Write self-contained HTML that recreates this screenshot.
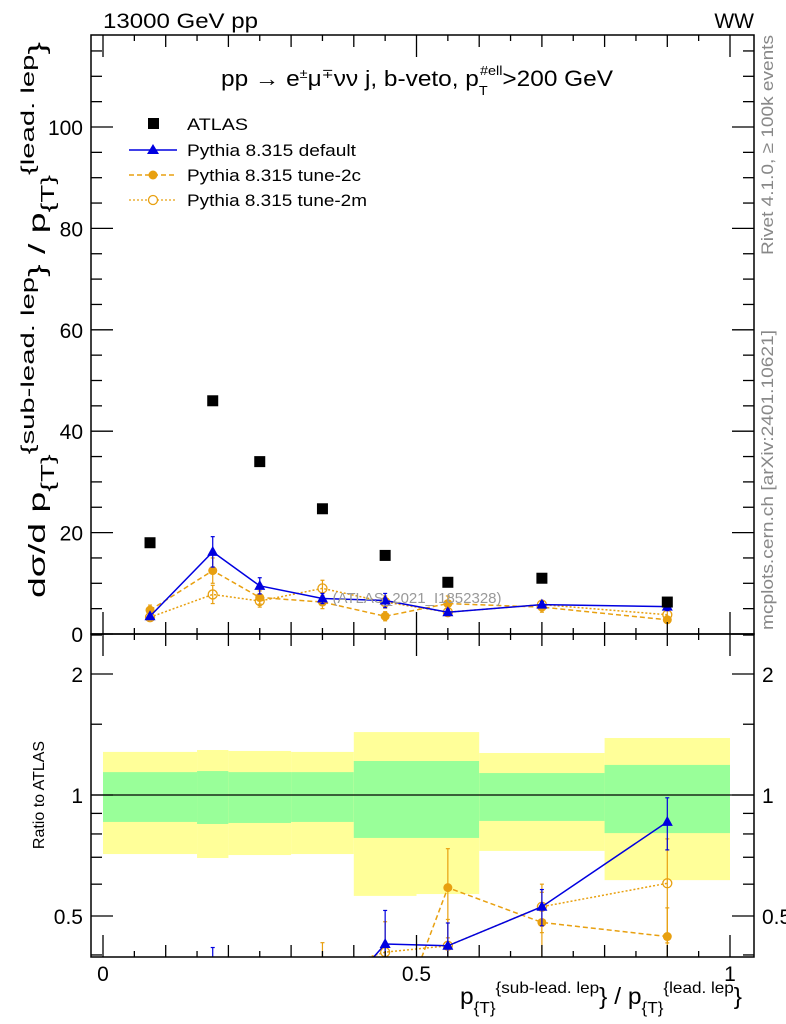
<!DOCTYPE html>
<html><head><meta charset="utf-8"><style>
html,body{margin:0;padding:0;background:#fff;overflow:hidden}
svg{display:block;font-family:"Liberation Sans",sans-serif}
</style></head><body>
<svg id="c" width="786" height="1024" viewBox="0 0 786 1024" xmlns="http://www.w3.org/2000/svg">
<defs>
<clipPath id="clipTop"><rect x="91" y="35" width="663" height="599"/></clipPath>
<clipPath id="clipBot"><rect x="91" y="634" width="663" height="323"/></clipPath>
</defs>
<g id="bands" clip-path="url(#clipBot)"></g>
<g id="marks"></g>
<rect x="91" y="35" width="663" height="599" fill="none" stroke="#000" stroke-width="1.5"/>
<rect x="91" y="634" width="663" height="323" fill="none" stroke="#000" stroke-width="1.5"/>
<g id="ticks" stroke="#000" stroke-width="1.3"></g>
<text x="103" y="28" font-size="21" textLength="155" lengthAdjust="spacingAndGlyphs">13000 GeV pp</text>
<text x="754" y="28" font-size="21" text-anchor="end">WW</text>
<text x="221" y="86" font-size="22" textLength="392" lengthAdjust="spacingAndGlyphs">pp  →  e<tspan font-size="13" dy="-8">±</tspan><tspan dy="8">μ</tspan><tspan font-size="13" dy="-8">∓</tspan><tspan dy="8">νν j, b-veto, p</tspan><tspan font-size="13" dy="9">T</tspan><tspan font-size="13" dy="-20" dx="-7">#ell</tspan><tspan dy="11">&gt;200 GeV</tspan></text>
<g font-size="17">
<rect x="148" y="118" width="11" height="11" fill="#000"/>
<text x="187" y="130" textLength="61" lengthAdjust="spacingAndGlyphs">ATLAS</text>
<line x1="129" y1="150" x2="177" y2="150" stroke="#0000e0" stroke-width="1.5"/>
<polygon points="153,144 147,154 159,154" fill="#0000e0"/>
<text x="187" y="156" textLength="169" lengthAdjust="spacingAndGlyphs">Pythia 8.315 default</text>
<line x1="129" y1="175" x2="177" y2="175" stroke="#e8a010" stroke-width="1.5" stroke-dasharray="5,3"/>
<circle cx="153" cy="175" r="4.5" fill="#e8a010"/>
<text x="187" y="181" textLength="174" lengthAdjust="spacingAndGlyphs">Pythia 8.315 tune-2c</text>
<line x1="129" y1="200" x2="177" y2="200" stroke="#e8a010" stroke-width="1.3" stroke-dasharray="2,2"/>
<circle cx="153" cy="200" r="4.5" fill="#fff" stroke="#e8a010" stroke-width="1.3"/>
<text x="187" y="206" textLength="180" lengthAdjust="spacingAndGlyphs">Pythia 8.315 tune-2m</text>
</g>
<text x="417" y="603" font-size="15" fill="#999" text-anchor="middle">(ATLAS_2021_I1852328)</text>
<text transform="translate(45,598) rotate(-90)" font-size="23" textLength="556" lengthAdjust="spacingAndGlyphs">dσ/d p<tspan font-size="18" dy="9">{T}</tspan><tspan font-size="18" dy="-20">{sub-lead. lep</tspan><tspan dy="11">} / p</tspan><tspan font-size="18" dy="9">{T}</tspan><tspan font-size="18" dy="-20">{lead. lep</tspan><tspan dy="11">}</tspan></text>
<text transform="translate(44,795) rotate(-90)" font-size="16" text-anchor="middle">Ratio to ATLAS</text>
<text x="460" y="1004" font-size="23" textLength="282" lengthAdjust="spacingAndGlyphs">p<tspan font-size="16" dy="9">{T}</tspan><tspan font-size="16" dy="-20">{sub-lead. lep</tspan><tspan dy="11">} / p</tspan><tspan font-size="16" dy="9">{T}</tspan><tspan font-size="16" dy="-20">{lead. lep</tspan><tspan dy="11">}</tspan></text>
<text transform="translate(773,145) rotate(-90)" font-size="17" fill="#888" text-anchor="middle" textLength="220" lengthAdjust="spacingAndGlyphs">Rivet 4.1.0, ≥ 100k events</text>
<text transform="translate(773,480) rotate(-90)" font-size="17" fill="#888" text-anchor="middle" textLength="300" lengthAdjust="spacingAndGlyphs">mcplots.cern.ch [arXiv:2401.10621]</text>
<script>
const binEdges=[0,0.15,0.2,0.3,0.4,0.5,0.6,0.8,1.0];
const xCenters=[0.075,0.175,0.25,0.35,0.45,0.55,0.7,0.9];
const atlas=[18,46,34,24.7,15.5,10.2,11,6.3];
const pyDefault=[3.5,16.2,9.5,7,6.6,4.3,5.8,5.4];
const pyDefaultErr=[0.4,3,1.6,1,1.4,0.6,0.6,0.8];
const py2c=[4.7,12.5,7.2,6.3,3.5,6.0,5.3,2.8];
const py2cErr=[1,2.5,1.3,1.3,0.9,1.5,1,0.5];
const py2m=[3.3,7.8,6.5,9,6.3,4.3,5.8,3.8];
const py2mErr=[0.6,1.8,1.2,1.6,1.2,0.7,0.8,1.1];
const bandYellowHi=[1.28,1.294,1.287,1.28,1.434,1.434,1.272,1.386];
const bandGreenHi=[1.14,1.147,1.14,1.14,1.215,1.215,1.134,1.188];
const bandGreenLo=[0.857,0.847,0.852,0.857,0.782,0.782,0.862,0.804];
const bandYellowLo=[0.713,0.697,0.709,0.713,0.561,0.567,0.726,0.614];
const yTicksMain=[0,20,40,60,80,100];
const yTicksRatio=[0.5,1,2];
const xTicks=[0,0.5,1];

const NS='http://www.w3.org/2000/svg';
const X=v=>103+v*627;
const Y=v=>634-v*5.07;
const R=v=>795-121*Math.log2(v);
function mk(tag,attrs,parent){const e=document.createElementNS(NS,tag);for(const k in attrs)e.setAttribute(k,attrs[k]);parent.appendChild(e);return e;}
const bands=document.getElementById('bands');
const marks=document.getElementById('marks');
const ticks=document.getElementById('ticks');
const svg=document.getElementById('c');

for(let i=0;i<8;i++){
  const x0=X(binEdges[i]),x1=X(binEdges[i+1]);
  let r=mk('rect',{x:x0,y:R(bandYellowHi[i]),width:x1-x0,height:R(bandYellowLo[i])-R(bandYellowHi[i]),fill:'#ffff99'},bands);
  
  
  let g=mk('rect',{x:x0,y:R(bandGreenHi[i]),width:x1-x0,height:R(bandGreenLo[i])-R(bandGreenHi[i]),fill:'#99ff99'},bands);
  
  
}
let one=mk('line',{x1:91,x2:754,y1:R(1),y2:R(1),stroke:'#000','stroke-width':1.3},bands);



const gTop=mk('g',{'clip-path':'url(#clipTop)'},marks);
const gBot=mk('g',{'clip-path':'url(#clipBot)'},marks);

function series(vals,errs,color,dash,marker,name,ratio,parent){
  const ys=vals.map((v,i)=>ratio?R(v/atlas[i]):Y(v));
  const pts=xCenters.map((x,i)=>X(x)+','+ys[i]).join(' ');
  const pl=mk('polyline',{points:pts,fill:'none',stroke:color,'stroke-width':1.5,'stroke-dasharray':dash},parent);
  
  
  xCenters.forEach((x,i)=>{
    const cx=X(x);
    const lo=ratio?R((vals[i]-errs[i])/atlas[i]):Y(vals[i]-errs[i]);
    const hi=ratio?R((vals[i]+errs[i])/atlas[i]):Y(vals[i]+errs[i]);
    mk('line',{x1:cx,x2:cx,y1:lo,y2:hi,stroke:color,'stroke-width':1.2},parent);
    mk('line',{x1:cx-2,x2:cx+2,y1:lo,y2:lo,stroke:color,'stroke-width':1.2},parent);
    mk('line',{x1:cx-2,x2:cx+2,y1:hi,y2:hi,stroke:color,'stroke-width':1.2},parent);
    let m;
    if(marker==='tri') m=mk('polygon',{points:`${cx},${ys[i]-6} ${cx-5.5},${ys[i]+4} ${cx+5.5},${ys[i]+4}`,fill:color},parent);
    else if(marker==='dot') m=mk('circle',{cx:cx,cy:ys[i],r:4.5,fill:color},parent);
    else m=mk('circle',{cx:cx,cy:ys[i],r:4.5,fill:'none',stroke:color,'stroke-width':1.3},parent);
    
    
  });
}
series(py2m,py2mErr,'#e8a010','2,2','open','tune-2m',false,gTop);
series(py2c,py2cErr,'#e8a010','5,3','dot','tune-2c',false,gTop);
series(pyDefault,pyDefaultErr,'#0000e0','none','tri','default',false,gTop);
atlas.forEach((v,i)=>{
  const s=mk('rect',{x:X(xCenters[i])-5.5,y:Y(v)-5.5,width:11,height:11,fill:'#000'},gTop);
  
  
});
series(py2m,py2mErr,'#e8a010','2,2','open','ratio-tune-2m',true,gBot);
series(py2c,py2cErr,'#e8a010','5,3','dot','ratio-tune-2c',true,gBot);
series(pyDefault,pyDefaultErr,'#0000e0','none','tri','ratio-default',true,gBot);

function tl(x1,y1,x2,y2){mk('line',{x1,y1,x2,y2},ticks);}
function label(x,y,t,anchor,size,name){const e=mk('text',{x,y,'font-size':size,'text-anchor':anchor,stroke:'none'},svg);e.textContent=t;}
for(let v=0;v<=115;v+=5){const y=Y(v);const L=(v%20===0)?22:11;tl(91,y,91+L,y);tl(754,y,754-L,y);}
yTicksMain.forEach(v=>label(83,Y(v)+8,String(v),'end',21,'y-tick-label'));
for(let k=0;k<=20;k++){const v=k*0.05;const x=X(v);const maj=k%10===0;const L=maj?22:(k%2===0?12:6);
  tl(x,634,x,634-L);tl(x,35,x,35+L);tl(x,957,x,957-L);tl(x,634,x,634+L);}
xTicks.forEach(v=>label(X(v),981,String(v),'middle',21,'x-tick-label'));
[0.4,0.5,0.6,0.7,0.8,0.9,1,1.5,2,2.5].forEach(v=>{const y=R(v);if(y<634||y>957)return;const maj=yTicksRatio.includes(v);const L=maj?22:11;tl(91,y,91+L,y);tl(754,y,754-L,y);});
yTicksRatio.forEach(v=>{label(83,R(v)+8,String(v),'end',21,'ratio-y-tick-label');label(762,R(v)+8,String(v),'start',21,'ratio-y-tick-label-right');});
</script>
</svg>
</body></html>
